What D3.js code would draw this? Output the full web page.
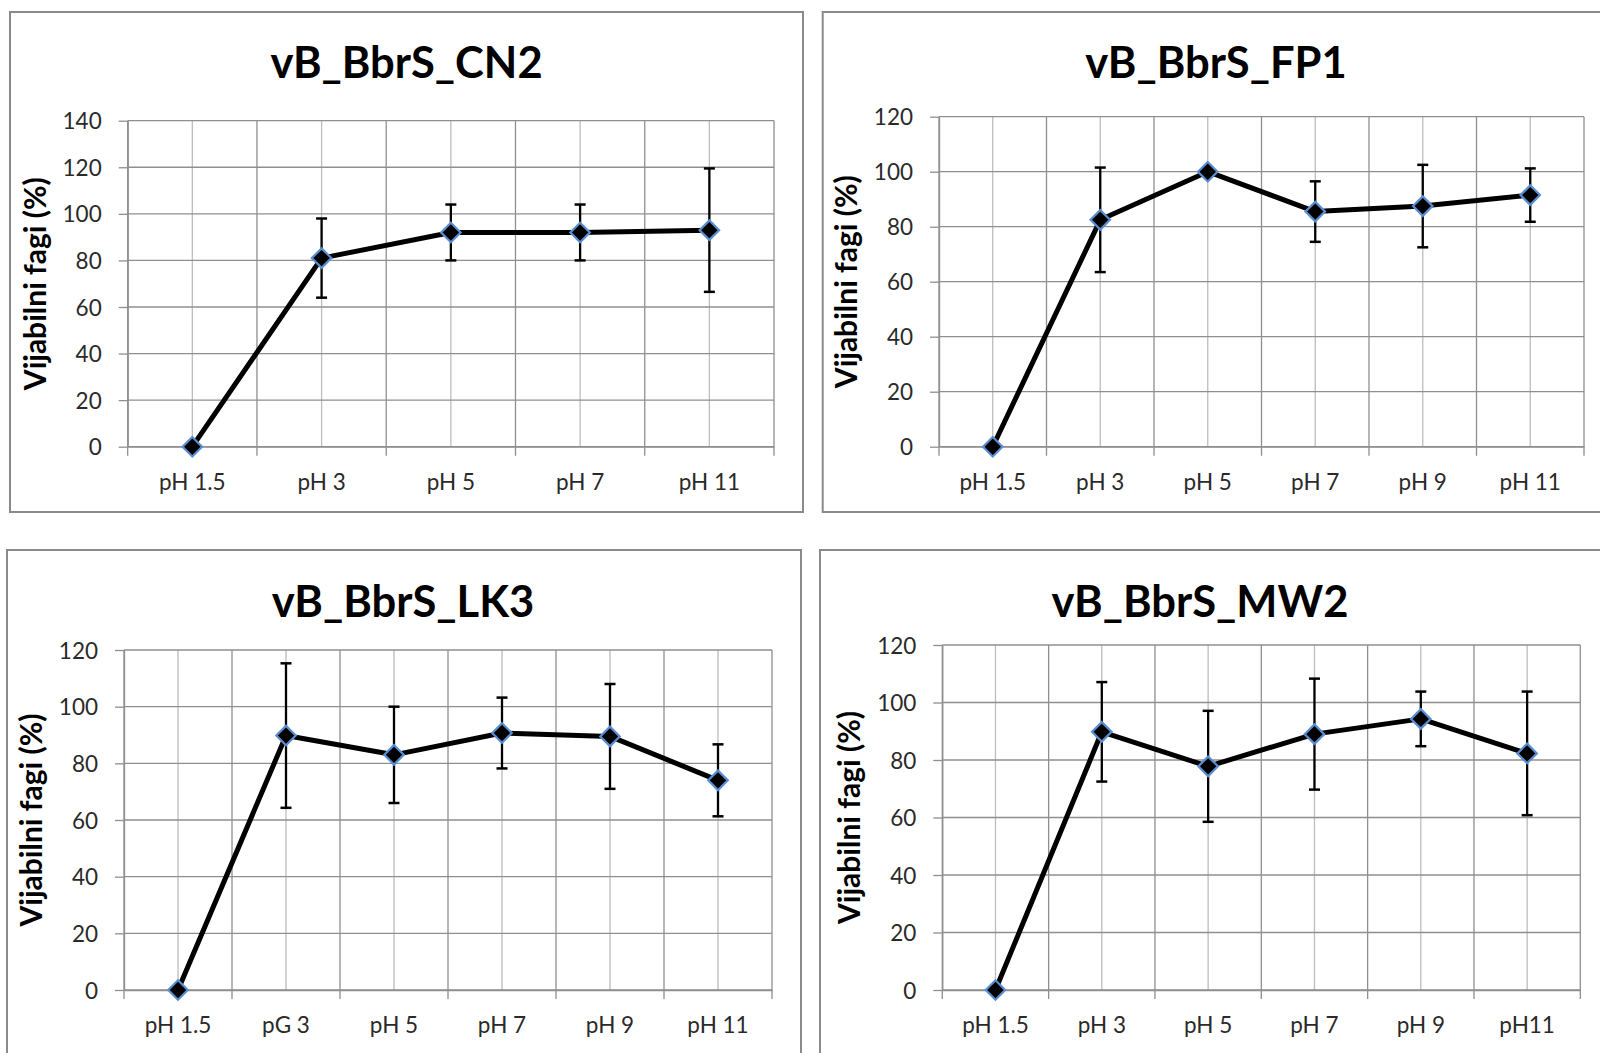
<!DOCTYPE html>
<html>
<head>
<meta charset="utf-8">
<script src="https://cdn.jsdelivr.net/npm/d3@7"></script>
<style>
  html, body { margin: 0; padding: 0; background: #ffffff; }
  svg { display: block; }
</style>
</head>
<body>
<svg id="chart" width="1600" height="1053"></svg>
<script>
// ---------------- DATA ----------------
const cn2Title = "vB_BbrS_CN2";
const cn2Categories = ["pH 1.5", "pH 3", "pH 5", "pH 7", "pH 11"];
const cn2Values = [0, 81, 92, 92, 93];
const cn2Errors = [0, 17, 12, 12, 26.5];
const cn2Ticks = [0, 20, 40, 60, 80, 100, 120, 140];

const fp1Title = "vB_BbrS_FP1";
const fp1Categories = ["pH 1.5", "pH 3", "pH 5", "pH 7", "pH 9", "pH 11"];
const fp1Values = [0, 82.5, 100, 85.5, 87.5, 91.5];
const fp1Errors = [0, 19, 0, 11, 15, 9.7];
const fp1Ticks = [0, 20, 40, 60, 80, 100, 120];

const lk3Title = "vB_BbrS_LK3";
const lk3Categories = ["pH 1.5", "pG 3", "pH 5", "pH 7", "pH 9", "pH 11"];
const lk3Values = [0, 89.8, 83, 90.7, 89.5, 74];
const lk3Errors = [0, 25.5, 17, 12.5, 18.5, 12.7];
const lk3Ticks = [0, 20, 40, 60, 80, 100, 120];

const mw2Title = "vB_BbrS_MW2";
const mw2Categories = ["pH 1.5", "pH 3", "pH 5", "pH 7", "pH 9", "pH11"];
const mw2Values = [0, 89.8, 77.8, 89, 94.3, 82.3];
const mw2Errors = [0, 17.3, 19.3, 19.3, 9.5, 21.5];
const mw2Ticks = [0, 20, 40, 60, 80, 100, 120];

const yAxisTitle = "Vijabilni fagi (%)";

// ---------------- LAYOUT ----------------
const panels = [
  { title: cn2Title, cats: cn2Categories, vals: cn2Values, errs: cn2Errors, ticks: cn2Ticks,
    box: { x: 10, y: 12, w: 793, h: 500 }, plot: { l: 127.7, r: 774, t: 120.7, b: 446.7 }, titleX: 406.5, titleY: 78 },
  { title: fp1Title, cats: fp1Categories, vals: fp1Values, errs: fp1Errors, ticks: fp1Ticks,
    box: { x: 822.7, y: 12, w: 790, h: 500 }, plot: { l: 939, r: 1584, t: 116.7, b: 446.7 }, titleX: 1216, titleY: 78 },
  { title: lk3Title, cats: lk3Categories, vals: lk3Values, errs: lk3Errors, ticks: lk3Ticks,
    box: { x: 7, y: 550, w: 794, h: 520 }, plot: { l: 124, r: 772, t: 650, b: 990 }, titleX: 403, titleY: 617 },
  { title: mw2Title, cats: mw2Categories, vals: mw2Values, errs: mw2Errors, ticks: mw2Ticks,
    box: { x: 820, y: 550, w: 790, h: 520 }, plot: { l: 942.3, r: 1580.3, t: 645, b: 990 }, titleX: 1200, titleY: 617 }
];

const FONT = "Lato, 'Open Sans', 'DejaVu Sans', sans-serif";
const gridMajor = "#8f8f8f";
const gridMinor = "#bdbdbd";

const svg = d3.select("#chart");

panels.forEach(p => {
  const g = svg.append("g");

  // panel frame
  g.append("rect")
    .attr("x", p.box.x).attr("y", p.box.y)
    .attr("width", p.box.w).attr("height", p.box.h)
    .attr("fill", "#ffffff")
    .attr("stroke", "#8a8a8a").attr("stroke-width", 2);

  const x = d3.scaleBand().domain(p.cats).range([p.plot.l, p.plot.r]).padding(0);
  const y = d3.scaleLinear().domain([0, d3.max(p.ticks)]).range([p.plot.b, p.plot.t]);
  const cx = c => x(c) + x.bandwidth() / 2;

  // minor vertical gridlines (category centres)
  g.append("g").selectAll("line").data(p.cats).join("line")
    .attr("x1", d => cx(d)).attr("x2", d => cx(d))
    .attr("y1", y(d3.max(p.ticks))).attr("y2", y(0))
    .attr("stroke", gridMinor).attr("stroke-width", 1.3);

  // major vertical gridlines (category boundaries)
  const bounds = p.cats.map(c => x(c)).concat([x.range()[1]]);
  g.append("g").selectAll("line").data(bounds).join("line")
    .attr("x1", d => d).attr("x2", d => d)
    .attr("y1", y(d3.max(p.ticks))).attr("y2", y(0) + 9)
    .attr("stroke", gridMajor).attr("stroke-width", 1.3);

  // horizontal gridlines
  g.append("g").selectAll("line").data(p.ticks).join("line")
    .attr("x1", p.plot.l).attr("x2", p.plot.r)
    .attr("y1", d => y(d)).attr("y2", d => y(d))
    .attr("stroke", gridMajor).attr("stroke-width", 1.3);

  // y axis
  const yAxis = g.append("g")
    .attr("transform", `translate(${p.plot.l},0)`)
    .call(d3.axisLeft(y).tickValues(p.ticks).tickSize(9).tickSizeOuter(0).tickPadding(17).tickFormat(d3.format("d")));
  yAxis.select(".domain").attr("stroke", gridMajor).attr("stroke-width", 1.3);
  yAxis.selectAll(".tick line").attr("stroke", gridMajor).attr("stroke-width", 1.3);
  yAxis.selectAll(".tick text")
    .attr("font-family", FONT).attr("font-size", 22.5).attr("fill", "#2a2a2a").attr("dy", "0.36em");

  // x axis (labels at centres)
  const xAxis = g.append("g")
    .attr("transform", `translate(0,${p.plot.b})`)
    .call(d3.axisBottom(x).tickSize(0).tickSizeOuter(0).tickPadding(27));
  xAxis.select(".domain").attr("stroke", gridMajor).attr("stroke-width", 1.3);
  xAxis.selectAll(".tick text")
    .attr("font-family", FONT).attr("font-size", 22.5).attr("fill", "#2a2a2a");

  // y axis title
  const midY = (p.plot.t + p.plot.b) / 2;
  g.append("text")
    .attr("transform", `translate(${p.plot.l - 82},${midY}) rotate(-90)`)
    .attr("text-anchor", "middle")
    .attr("font-family", FONT).attr("font-weight", "bold").attr("font-size", 30)
    .attr("fill", "#000")
    .text(yAxisTitle);

  // chart title
  g.append("text")
    .attr("x", p.titleX).attr("y", p.titleY)
    .attr("text-anchor", "middle")
    .attr("font-family", FONT).attr("font-weight", "bold").attr("font-size", 43.5)
    .attr("fill", "#000")
    .text(p.title);

  const pts = p.cats.map((c, i) => ({ c, v: p.vals[i], e: p.errs[i] }));

  // series line
  g.append("path")
    .datum(pts)
    .attr("d", d3.line().x(d => cx(d.c)).y(d => y(d.v)))
    .attr("fill", "none").attr("stroke", "#000").attr("stroke-width", 5)
    .attr("stroke-linejoin", "round");

  // error bars
  const eb = g.append("g").selectAll("g").data(pts.filter(d => d.e > 0)).join("g");
  eb.append("line")
    .attr("x1", d => cx(d.c)).attr("x2", d => cx(d.c))
    .attr("y1", d => y(d.v + d.e)).attr("y2", d => y(d.v - d.e))
    .attr("stroke", "#000").attr("stroke-width", 2.3);
  eb.append("line")
    .attr("x1", d => cx(d.c) - 5.5).attr("x2", d => cx(d.c) + 5.5)
    .attr("y1", d => y(d.v + d.e)).attr("y2", d => y(d.v + d.e))
    .attr("stroke", "#000").attr("stroke-width", 2.5);
  eb.append("line")
    .attr("x1", d => cx(d.c) - 5.5).attr("x2", d => cx(d.c) + 5.5)
    .attr("y1", d => y(d.v - d.e)).attr("y2", d => y(d.v - d.e))
    .attr("stroke", "#000").attr("stroke-width", 2.5);

  // diamond markers
  g.append("g").selectAll("path").data(pts).join("path")
    .attr("d", d3.symbol(d3.symbolSquare, 190)())
    .attr("transform", d => `translate(${cx(d.c)},${y(d.v)}) rotate(45)`)
    .attr("fill", "#000").attr("stroke", "#5b8ed0").attr("stroke-width", 2.2);
});
</script>
</body>
</html>
